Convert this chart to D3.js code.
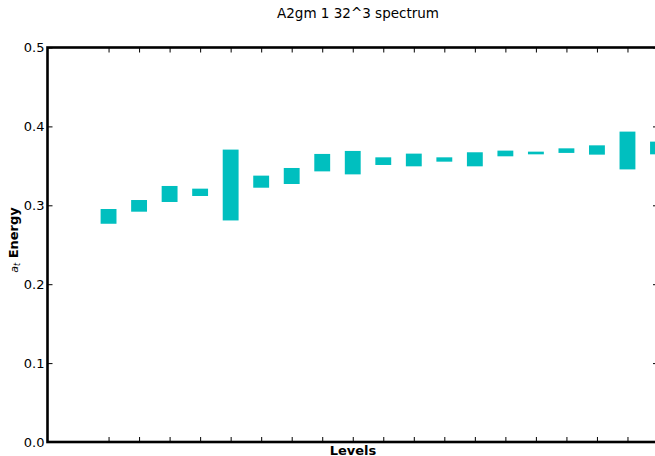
<!DOCTYPE html>
<html>
<head>
<meta charset="utf-8">
<script src="https://cdn.jsdelivr.net/npm/d3@7"></script>
<style>
  body { margin: 0; background: #fff; }
  svg { display: block; font-family: "DejaVu Sans", sans-serif; }
</style>
</head>
<body>
<svg id="chart" width="655" height="456"></svg>
<script>
// spectrum levels and the low/high edge of each energy band
const levels = [1, 2, 3, 4, 5, 6, 7, 8, 9, 10, 11, 12, 13, 14, 15, 16, 17, 18, 19];
const energyLow = [0.2766, 0.2919, 0.3042, 0.3118, 0.2808, 0.3223, 0.3270, 0.3430, 0.3392, 0.3511,
                   0.3494, 0.3553, 0.3494, 0.3621, 0.3646, 0.3664, 0.3642, 0.3455, 0.3646];
const energyHigh = [0.2953, 0.3067, 0.3245, 0.3211, 0.3706, 0.3376, 0.3473, 0.3651, 0.3689, 0.3608,
                    0.3655, 0.3608, 0.3672, 0.3693, 0.3680, 0.3722, 0.3760, 0.3934, 0.3807];
const yTicks = [0.0, 0.1, 0.2, 0.3, 0.4, 0.5];

const svg = d3.select("#chart");
const m = { left: 47.5, right: 658, top: 47.5, bottom: 442 };

const x = d3.scaleLinear().domain([-1, 19]).range([m.left, m.right]);
const y = d3.scaleLinear().domain([0, 0.5]).range([m.bottom, m.top]);

const data = levels.map((l, i) => ({ level: l, lo: energyLow[i], hi: energyHigh[i] }));

// clip bars to the axes box
svg.append("clipPath").attr("id", "clip")
  .append("rect")
  .attr("x", m.left).attr("y", m.top)
  .attr("width", m.right - m.left).attr("height", m.bottom - m.top);

const barW = x(0.52) - x(0);
svg.append("g")
  .attr("clip-path", "url(#clip)")
  .selectAll("rect")
  .data(data)
  .join("rect")
  .attr("x", d => x(d.level) - barW / 2)
  .attr("y", d => y(d.hi))
  .attr("width", barW)
  .attr("height", d => y(d.lo) - y(d.hi))
  .attr("fill", "#00bfbf");

// axes, ticks pointing inward
const styleAxis = g => {
  g.select(".domain").remove();
  g.selectAll(".tick line").attr("stroke", "#000").attr("stroke-width", 1);
  g.selectAll("text").attr("font-size", 13).attr("fill", "#000")
    .attr("font-family", "DejaVu Sans, sans-serif");
};

svg.append("g")
  .attr("transform", `translate(${m.left},0)`)
  .call(d3.axisLeft(y).tickValues(yTicks).tickFormat(d3.format(".1f")).tickSizeInner(-5).tickSizeOuter(0).tickPadding(3))
  .call(styleAxis);

svg.append("g")
  .attr("transform", `translate(${m.right},0)`)
  .call(d3.axisRight(y).tickValues(yTicks).tickFormat("").tickSizeInner(-5).tickSizeOuter(0))
  .call(styleAxis);

svg.append("g")
  .attr("transform", `translate(0,${m.bottom})`)
  .call(d3.axisBottom(x).tickValues(levels).tickFormat("").tickSizeInner(-5).tickSizeOuter(0))
  .call(styleAxis);

svg.append("g")
  .attr("transform", `translate(0,${m.top})`)
  .call(d3.axisTop(x).tickValues(levels).tickFormat("").tickSizeInner(-5).tickSizeOuter(0))
  .call(styleAxis);

// frame
svg.append("rect")
  .attr("x", m.left).attr("y", m.top)
  .attr("width", m.right - m.left).attr("height", m.bottom - m.top)
  .attr("fill", "none").attr("stroke", "#000").attr("stroke-width", 2.6);

// labels
svg.append("text")
  .attr("x", 358).attr("y", 18)
  .attr("text-anchor", "middle").attr("font-size", 13.5)
  .text("A2gm 1 32^3 spectrum");

svg.append("text")
  .attr("x", 353).attr("y", 455)
  .attr("text-anchor", "middle").attr("font-size", 13).attr("font-weight", "bold")
  .text("Levels");

const yl = svg.append("text")
  .attr("transform", "translate(18,240) rotate(-90)")
  .attr("text-anchor", "middle").attr("font-size", 13);
yl.append("tspan").attr("font-style", "italic").attr("font-size", 11).text("a");
yl.append("tspan").attr("font-style", "italic").attr("font-size", 8).attr("dy", 2).text("t");
yl.append("tspan").attr("font-weight", "bold").attr("dy", -2).text(" Energy");
</script>
</body>
</html>
